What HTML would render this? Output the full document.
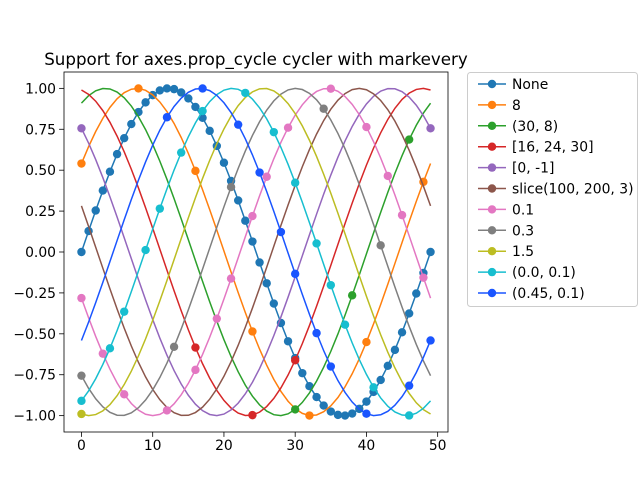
<!DOCTYPE html>
<html><head><meta charset="utf-8"><style>body{margin:0;background:#fff}svg{display:block}text{font-family:"DejaVu Sans","Liberation Sans",sans-serif}</style></head>
<body><svg id="s" width="640" height="480" xmlns="http://www.w3.org/2000/svg"></svg>
<script>
const s=document.getElementById('s');
const L=64,R=448,T=72,B=432;
const xmin=-2.45,xmax=51.45,ymin=-1.1,ymax=1.1;
const X=v=>L+(v-xmin)/(xmax-xmin)*(R-L), Y=v=>B-(v-ymin)/(ymax-ymin)*(B-T);
let h='';
h+=`<rect x="${L}" y="${T}" width="${R-L}" height="${B-T}" fill="#fff"/>`;
const colors=['#1f77b4','#ff7f0e','#2ca02c','#d62728','#9467bd','#8c564b','#e377c2','#7f7f7f','#bcbd22','#17becf','#1a55FF'];
const labels=['None','8','(30, 8)','[16, 24, 30]','[0, -1]','slice(100, 200, 3)','0.1','0.3','1.5','(0.0, 0.1)','(0.45, 0.1)'];
const N=50;
function floatInds(px,start,step){
  let d=[0];for(let i=1;i<px.length;i++)d.push(d[i-1]+Math.hypot(px[i][0]-px[i-1][0],px[i][1]-px[i-1][1]));
  const sc=Math.hypot(R-L,B-T);const out=new Set();
  for(let m=start*sc;m<d[N-1];m+=step*sc){let bi=0,bv=1e9;for(let i=0;i<N;i++){const a=Math.abs(d[i]-m);if(a<bv){bv=a;bi=i;}}out.add(bi);}
  return [...out];
}
for(let k=0;k<11;k++){
  const phi=2*Math.PI*k/11;const px=[];
  for(let i=0;i<N;i++){const x=2*Math.PI*i/49;px.push([X(i),Y(Math.sin(x+phi))]);}
  let inds=[];
  switch(k){
    case 0:inds=[...Array(N).keys()];break;
    case 1:for(let i=0;i<N;i+=8)inds.push(i);break;
    case 2:for(let i=30;i<N;i+=8)inds.push(i);break;
    case 3:inds=[16,24,30];break;
    case 4:inds=[0,49];break;
    case 5:inds=[];break;
    case 6:inds=floatInds(px,0,0.1);break;
    case 7:inds=floatInds(px,0,0.3);break;
    case 8:inds=floatInds(px,0,1.5);break;
    case 9:inds=floatInds(px,0,0.1);break;
    case 10:inds=floatInds(px,0.45,0.1);break;
  }
  h+=`<polyline fill="none" stroke="${colors[k]}" stroke-width="1.5" points="${px.map(p=>p[0].toFixed(2)+','+p[1].toFixed(2)).join(' ')}"/>`;
  for(const i of inds)h+=`<circle cx="${px[i][0].toFixed(2)}" cy="${px[i][1].toFixed(2)}" r="4.2" fill="${colors[k]}"/>`;
}
h+=`<rect x="${L}" y="${T}" width="${R-L}" height="${B-T}" fill="none" stroke="#000" stroke-width="0.8"/>`;
for(let v=0;v<=50;v+=10){const x=X(v);h+=`<line x1="${x}" y1="${B}" x2="${x}" y2="${B+4.9}" stroke="#000" stroke-width="0.8"/><text x="${x}" y="${B+18}" font-size="13.9" text-anchor="middle">${v}</text>`;}
for(let j=-4;j<=4;j++){const v=j*0.25,y=Y(v);h+=`<line x1="${L}" y1="${y}" x2="${L-4.9}" y2="${y}" stroke="#000" stroke-width="0.8"/><text x="${L-8}" y="${y+5}" font-size="13.9" text-anchor="end">${v.toFixed(2).replace('-','−')}</text>`;}
h+=`<text x="${(L+R)/2}" y="65" font-size="16.7" text-anchor="middle">Support for axes.prop_cycle cycler with markevery</text>`;
h+=`<rect x="467.5" y="72.5" width="170" height="234" rx="3" fill="#fff" stroke="#ccc" stroke-width="1"/>`;
for(let k=0;k<11;k++){const y=84+k*20.9;h+=`<line x1="478" y1="${y}" x2="506" y2="${y}" stroke="${colors[k]}" stroke-width="1.5"/><circle cx="492" cy="${y}" r="4.2" fill="${colors[k]}"/><text x="512" y="${y+5}" font-size="13.9">${labels[k]}</text>`;}
s.innerHTML=h;
</script></body></html>
